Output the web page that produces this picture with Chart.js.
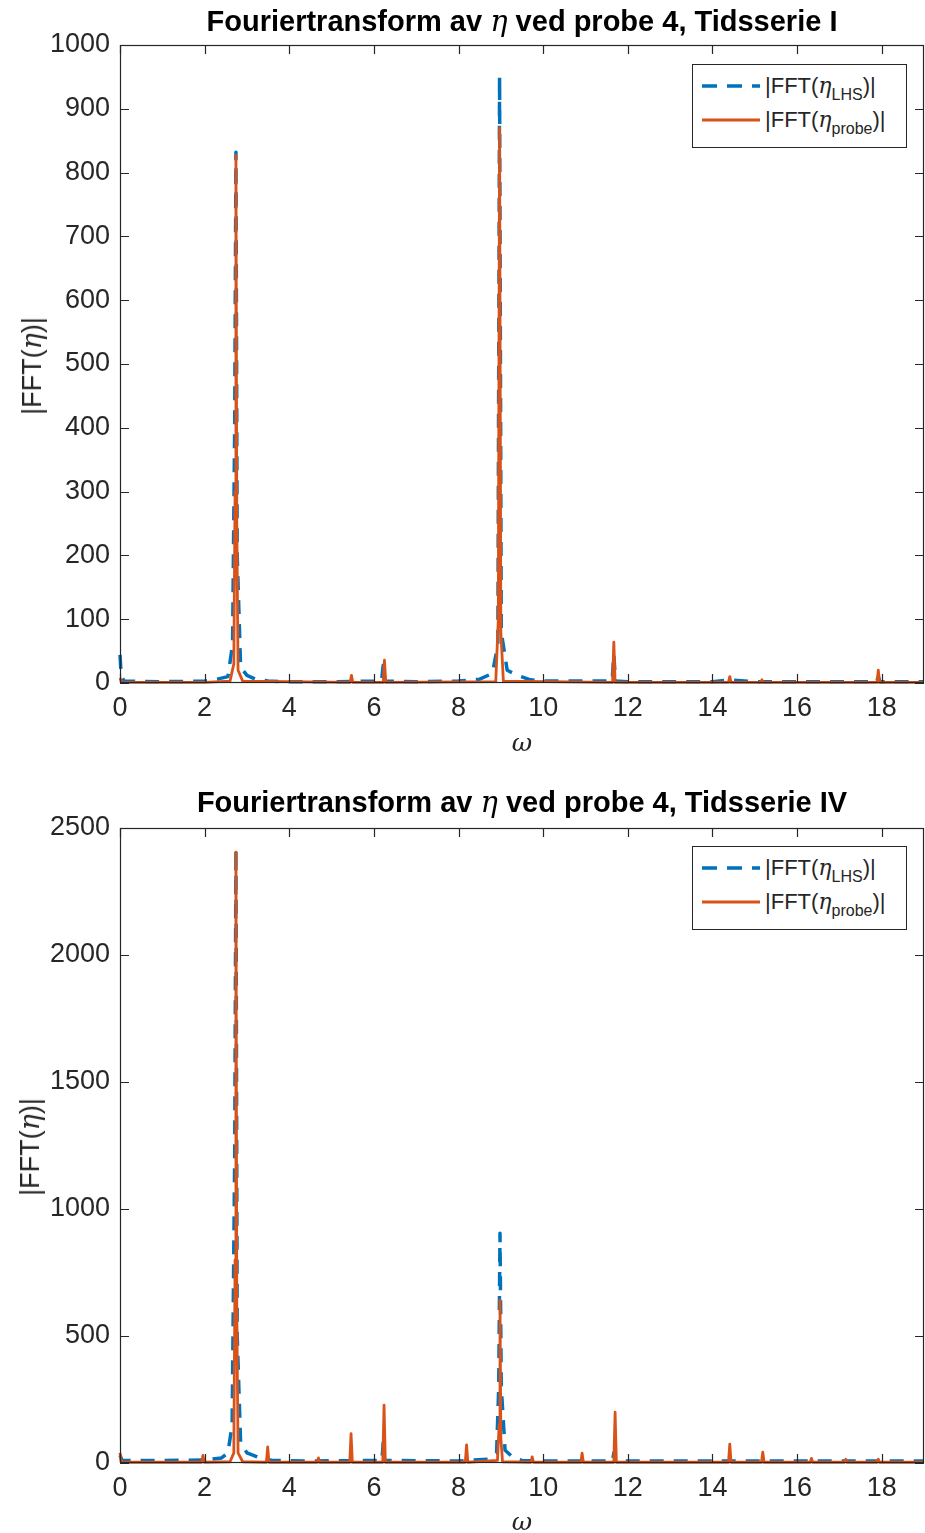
<!DOCTYPE html>
<html>
<head>
<meta charset="utf-8">
<script src="https://cdn.jsdelivr.net/npm/chart.js@4.4.1/dist/chart.umd.min.js"></script>
<style>
  body { margin: 0; background: #fff; }
  #wrap { position: relative; width: 925px; height: 1533px; overflow: hidden; font-family: "Liberation Sans", Arial, sans-serif; color: #262626; }
  canvas { position: absolute; left: 0; }
  .tittel { position: absolute; left: 0; width: 1044px; text-align: center; font-weight: bold; font-size: 29px; white-space: nowrap; color: #000; }
  .eta { font-family: "DejaVu Serif", "Liberation Serif", serif; font-style: italic; font-weight: normal; }
  .ylab { position: absolute; font-size: 27px; white-space: nowrap; transform: translate(-50%, -50%) rotate(-90deg); }
  .xlab { position: absolute; font-size: 25px; font-family: "DejaVu Serif", "Liberation Serif", serif; font-style: italic; transform: translate(-50%, -50%); }
  .legende { position: absolute; left: 692px; width: 213px; height: 82px; border: 1.5px solid #262626; background: #fff; font-size: 22px; }
  .rad { position: absolute; left: 0; height: 30px; display: flex; align-items: center; white-space: nowrap; }
  .rad svg { margin-left: 9px; margin-right: 5px; }
  .rad .sub { font-size: 16px; position: relative; top: 7px; }
</style>
</head>
<body>
<div id="wrap">
  <canvas id="graf1" width="925" height="766" style="top:0"></canvas>
  <canvas id="graf2" width="925" height="767" style="top:766px"></canvas>

  <div class="tittel" style="top:4px">Fouriertransform av <span class="eta">η</span> ved probe 4, Tidsserie I</div>
  <div class="tittel" style="top:785px">Fouriertransform av <span class="eta">η</span> ved probe 4, Tidsserie IV</div>

  <div class="ylab" style="left:32px; top:366px">|FFT(<span class="eta">η</span>)|</div>
  <div class="ylab" style="left:30px; top:1147px">|FFT(<span class="eta">η</span>)|</div>

  <div class="xlab" style="left:522px; top:742px">ω</div>
  <div class="xlab" style="left:522px; top:1521px">ω</div>

  <div class="legende" style="top:64px">
    <div class="rad" style="top:6px"><svg width="58" height="6"><line x1="0" y1="3" x2="58" y2="3" stroke="#0072BD" stroke-width="3.5" stroke-dasharray="15,10"/></svg><span>|FFT(<span class="eta">η</span><span class="sub">LHS</span>)|</span></div>
    <div class="rad" style="top:40px"><svg width="58" height="6"><line x1="0" y1="3" x2="58" y2="3" stroke="#D95319" stroke-width="3"/></svg><span>|FFT(<span class="eta">η</span><span class="sub">probe</span>)|</span></div>
  </div>
  <div class="legende" style="top:846px">
    <div class="rad" style="top:6px"><svg width="58" height="6"><line x1="0" y1="3" x2="58" y2="3" stroke="#0072BD" stroke-width="3.5" stroke-dasharray="15,10"/></svg><span>|FFT(<span class="eta">η</span><span class="sub">LHS</span>)|</span></div>
    <div class="rad" style="top:40px"><svg width="58" height="6"><line x1="0" y1="3" x2="58" y2="3" stroke="#D95319" stroke-width="3"/></svg><span>|FFT(<span class="eta">η</span><span class="sub">probe</span>)|</span></div>
  </div>
</div>

<script>
// Akseverdier
const xTicks = [0, 2, 4, 6, 8, 10, 12, 14, 16, 18];
const yTicks1 = [0, 100, 200, 300, 400, 500, 600, 700, 800, 900, 1000];
const yTicks2 = [0, 500, 1000, 1500, 2000, 2500];

// Tidsserie I - LHS
const omegaLHS1 = [0, 0.03, 0.1, 1.0, 2.0, 2.3, 2.55, 2.66, 2.71, 2.74, 2.77, 2.85, 3.0, 3.2, 3.5, 4.0, 5.0, 6.18, 6.22, 6.26, 7.0, 8.0, 8.5, 8.8, 8.93, 8.97, 9.01, 9.15, 9.4, 9.7, 10.0, 11.0, 11.63, 11.67, 11.71, 12.0, 14.0, 14.4, 15.0, 17.88, 17.92, 17.96, 19.0];
const fftLHS1 = [44, 10, 3, 2, 3, 6, 10, 60, 400, 832, 200, 25, 12, 6, 3, 2, 2, 3, 28, 3, 2, 3, 6, 15, 60, 950, 80, 20, 12, 5, 3, 3, 3, 45, 3, 2, 2, 5, 2, 2, 10, 2, 2];

// Tidsserie I - probe
const omegaProbe1 = [0, 0.04, 2.0, 2.6, 2.69, 2.72, 2.74, 2.76, 2.79, 2.9, 5.44, 5.47, 5.50, 6.22, 6.25, 6.28, 8.88, 8.94, 8.97, 9.00, 9.06, 11.64, 11.67, 11.70, 14.38, 14.41, 14.44, 15.14, 15.17, 15.20, 17.89, 17.92, 17.95, 19.0];
const fftProbe1 = [8, 1, 1, 3, 30, 300, 827, 250, 20, 3, 1, 12, 1, 1, 36, 1, 2, 100, 870, 80, 3, 1, 64, 1, 1, 10, 1, 1, 5, 1, 1, 20, 1, 1];

// Tidsserie IV - LHS
const omegaLHS2 = [0, 0.05, 1.0, 2.0, 2.4, 2.55, 2.65, 2.71, 2.74, 2.77, 2.85, 3.0, 3.3, 3.6, 4.5, 6.19, 6.22, 6.25, 8.0, 8.7, 8.9, 8.95, 8.98, 9.01, 9.1, 9.3, 9.5, 10.0, 11.64, 11.67, 11.70, 14.4, 19.0];
const fftLHS2 = [30, 10, 10, 12, 20, 40, 150, 1200, 2417, 500, 80, 40, 20, 10, 8, 10, 80, 10, 8, 15, 40, 300, 905, 300, 50, 20, 10, 8, 8, 40, 8, 8, 8];

// Tidsserie IV - probe
const omegaProbe2 = [0, 0.03, 0.1, 1.93, 1.96, 1.99, 2.6, 2.69, 2.72, 2.74, 2.76, 2.79, 2.9, 3.46, 3.49, 3.52, 4.66, 4.69, 4.72, 5.43, 5.46, 5.49, 6.21, 6.24, 6.27, 8.16, 8.19, 8.22, 8.92, 8.96, 8.98, 9.00, 9.04, 9.71, 9.74, 9.77, 10.89, 10.92, 10.95, 11.67, 11.70, 11.73, 14.38, 14.41, 14.44, 15.16, 15.19, 15.22, 16.31, 16.34, 16.37, 17.12, 17.15, 17.18, 17.89, 17.92, 17.95, 19.0];
const fftProbe2 = [40, 5, 3, 3, 30, 3, 5, 40, 800, 2405, 600, 40, 5, 3, 63, 3, 3, 20, 3, 3, 116, 3, 3, 228, 3, 3, 71, 3, 10, 150, 642, 100, 5, 3, 24, 3, 3, 39, 3, 3, 200, 3, 3, 74, 3, 3, 43, 3, 3, 18, 3, 3, 15, 3, 3, 15, 3, 3];

const aksefarge = "#262626";

// Boks rundt plottet med tikkmerker innover (MATLAB-stil)
const boksPlugin = {
  id: "boks",
  afterDraw(chart) {
    const { ctx, chartArea, scales } = chart;
    const { left, right, top, bottom } = chartArea;
    ctx.save();
    ctx.strokeStyle = aksefarge;
    ctx.lineWidth = 1.2;
    ctx.strokeRect(left + 0.5, top + 0.5, right - left - 1, bottom - top - 1);
    const lengde = 9;
    ctx.beginPath();
    scales.x.ticks.forEach(t => {
      const px = Math.round(scales.x.getPixelForValue(t.value)) + 0.5;
      ctx.moveTo(px, bottom); ctx.lineTo(px, bottom - lengde);
      ctx.moveTo(px, top); ctx.lineTo(px, top + lengde);
    });
    scales.y.ticks.forEach(t => {
      const py = Math.round(scales.y.getPixelForValue(t.value)) + 0.5;
      ctx.moveTo(left, py); ctx.lineTo(left + lengde, py);
      ctx.moveTo(right, py); ctx.lineTo(right - lengde, py);
    });
    ctx.stroke();
    ctx.restore();
  }
};

function lagGraf(id, omegaA, lhs, omegaB, probe, yTicks, topp, xHoyde) {
  return new Chart(document.getElementById(id), {
    type: "line",
    data: {
      datasets: [
        {
          label: "|FFT(η_LHS)|",
          data: omegaA.map((w, i) => ({ x: w, y: lhs[i] })),
          borderColor: "#0072BD",
          borderWidth: 3.5,
          borderDash: [14, 10],
          borderJoinStyle: "round",
          pointRadius: 0,
          tension: 0,
          clip: 6,
          order: 2
        },
        {
          label: "|FFT(η_probe)|",
          data: omegaB.map((w, i) => ({ x: w, y: probe[i] })),
          borderColor: "#D95319",
          borderWidth: 2.8,
          borderJoinStyle: "round",
          pointRadius: 0,
          tension: 0,
          clip: 6,
          order: 1
        }
      ]
    },
    options: {
      responsive: false,
      animation: false,
      events: [],
      layout: { padding: { top: topp, right: 1, left: 0, bottom: 0 } },
      plugins: { legend: { display: false }, tooltip: { enabled: false } },
      scales: {
        x: {
          type: "linear",
          min: 0,
          max: 19,
          grid: { display: false, drawTicks: false },
          border: { display: false },
          afterBuildTicks: s => { s.ticks = xTicks.map(v => ({ value: v })); },
          afterFit: s => { s.height = xHoyde; },
          ticks: { color: aksefarge, padding: 9, maxRotation: 0, callback: v => String(v), font: { family: "Liberation Sans", size: 27 } }
        },
        y: {
          type: "linear",
          min: yTicks[0],
          max: yTicks[yTicks.length - 1],
          grid: { display: false, drawTicks: false },
          border: { display: false },
          afterBuildTicks: s => { s.ticks = yTicks.map(v => ({ value: v })); },
          afterFit: s => { s.width = 120; },
          ticks: { color: aksefarge, padding: 10, callback: v => String(v), font: { family: "Liberation Sans", size: 27 } }
        }
      }
    },
    plugins: [boksPlugin]
  });
}

lagGraf("graf1", omegaLHS1, fftLHS1, omegaProbe1, fftProbe1, yTicks1, 45, 766 - 683);
lagGraf("graf2", omegaLHS2, fftLHS2, omegaProbe2, fftProbe2, yTicks2, 62, 767 - 697);
</script>
</body>
</html>
